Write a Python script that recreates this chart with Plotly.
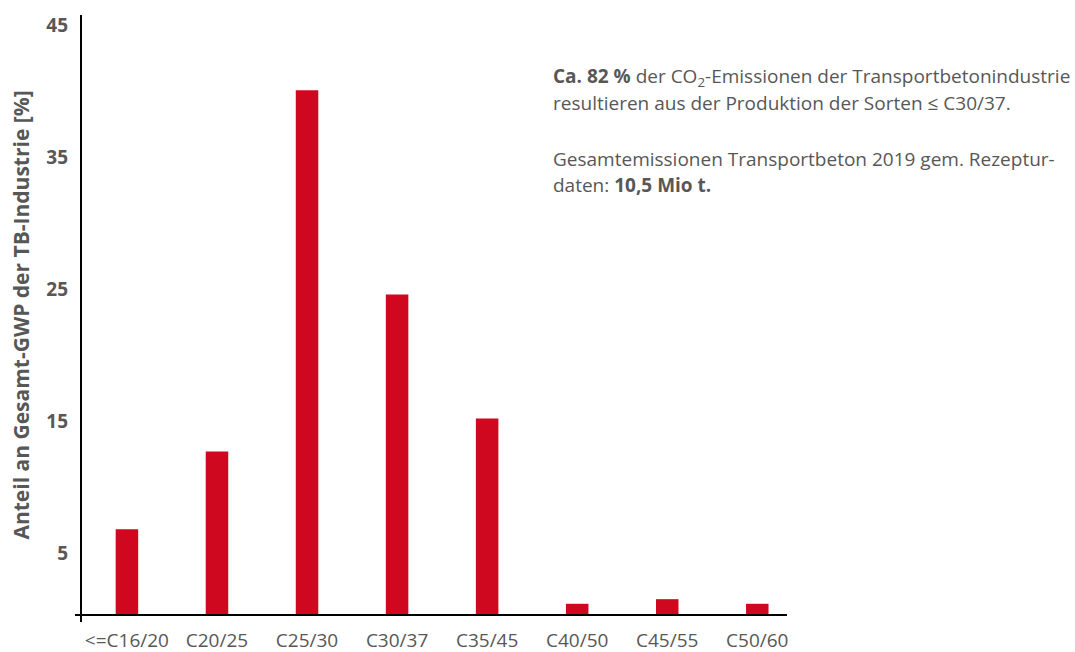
import plotly.graph_objects as go

categories = ["<=C16/20", "C20/25", "C25/30", "C30/37", "C35/45", "C40/50", "C45/55", "C50/60"]
values = [6.5, 12.4, 39.8, 24.3, 14.9, 0.85, 1.2, 0.85]
y_ticks = [5, 15, 25, 35, 45]

RED = "#D0081F"
GRAY = "#575757"
FONT = "Open Sans"

L, R, T, B = 81, 787, 15, 615
W, H = 1075, 652
pw, ph = R - L, B - T

def px(x):
    return (x - L) / pw

def py(y):
    return (B - y) / ph

fig = go.Figure(go.Bar(
    x=list(range(len(categories))),
    y=values,
    marker=dict(color=RED, line=dict(width=0)),
    width=0.25,
    hoverinfo="skip",
))

fig.update_layout(
    width=W, height=H,
    margin=dict(l=L, r=W - R, t=T, b=H - B, autoexpand=False),
    paper_bgcolor="white", plot_bgcolor="white",
    showlegend=False,
    font=dict(family=FONT, color=GRAY),
    xaxis=dict(
        range=[-0.51, 7.33],
        tickmode="array",
        tickvals=list(range(len(categories))),
        ticktext=categories,
        showgrid=False, zeroline=False, showline=False,
        ticks="",
        automargin=False,
        ticklabelstandoff=12,
        tickfont=dict(family=FONT, size=19, color=GRAY),
    ),
    yaxis=dict(
        range=[0, 45.5],
        tickmode="array",
        tickvals=y_ticks,
        ticktext=[str(v) for v in y_ticks],
        showgrid=False, zeroline=False, showline=False,
        ticks="",
        automargin=False,
        ticklabelstandoff=12,
        ticklabelshift=4,
        tickfont=dict(family=FONT, size=19, color=GRAY, weight="bold"),
        title=dict(
            text="<b>Anteil an Gesamt-GWP der TB-Industrie [%]</b>",
            font=dict(family=FONT, size=21, color=GRAY),
            standoff=10,
        ),
    ),
    shapes=[
        dict(type="line", xref="paper", yref="paper", x0=0, x1=0, y0=py(622), y1=1,
             line=dict(color="black", width=2)),
        dict(type="line", xref="paper", yref="paper", x0=px(75), x1=1, y0=0, y1=0,
             line=dict(color="black", width=2)),
    ],
)

lines = [
    ("<b>Ca. 82 %</b> der CO<sub>2</sub>-Emissionen der Transportbetonindustrie", 77),
    ("resultieren aus der Produktion der Sorten ≤ C30/37.", 103),
    ("Gesamtemissionen Transportbeton 2019 gem. Rezeptur-", 159),
    ("daten: <b>10,5 Mio t.</b>", 185),
]
for text, yc in lines:
    fig.add_annotation(
        text=text, xref="paper", yref="paper",
        x=px(551), y=py(yc), xanchor="left", yanchor="middle",
        showarrow=False, align="left",
        font=dict(family=FONT, size=19, color=GRAY),
    )

fig.write_html("out.html")
